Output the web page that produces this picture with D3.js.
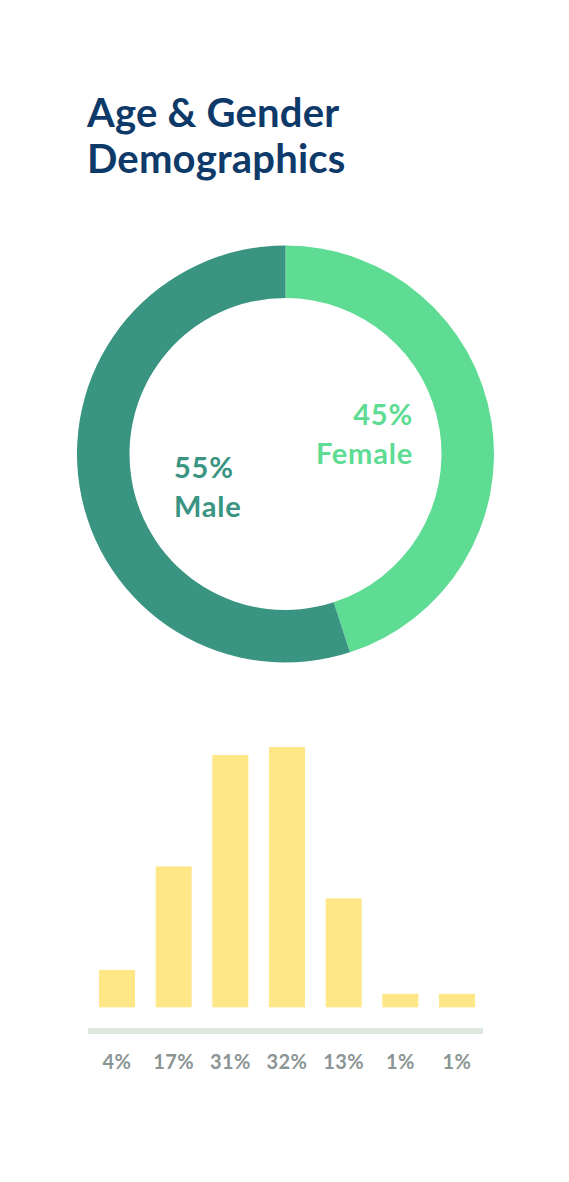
<!DOCTYPE html>
<html>
<head>
<meta charset="utf-8">
<script src="https://cdn.jsdelivr.net/npm/d3@7"></script>
<style>
  html, body { margin: 0; padding: 0; background: #ffffff; }
  svg { display: block; }
  text { font-family: Lato, "Open Sans", sans-serif; font-weight: 700; }
</style>
</head>
<body>
<svg id="chart" width="569" height="1182"></svg>
<script>
// ---- data ----
const titleLines = ["Age & Gender", "Demographics"];
const genderLabels = ["Female", "Male"];
const genderValues = [45, 55];
const ageCategories = ["a1", "a2", "a3", "a4", "a5", "a6", "a7"];
const ageValues = [4, 17, 31, 32, 13, 1, 1];
const ageTickLabels = ["4%", "17%", "31%", "32%", "13%", "1%", "1%"];

// ---- styles ----
const titleColor = "#0e3a6a";
const genderColors = ["#5edc93", "#3a9482"];
const barColor = "#ffe686";
const baseColor = "#dce7de";
const tickColor = "#8b9594";

const svg = d3.select("#chart");

// Title
svg.append("g").selectAll("text").data(titleLines).join("text")
  .attr("x", 87)
  .attr("y", (d, i) => 127 + i * 46)
  .attr("font-size", 40)
  .attr("letter-spacing", 0.2)
  .attr("fill", titleColor)
  .text(d => d);

// Donut
const cx = 285.5, cy = 454;
const pie = d3.pie().sort(null).value(d => d)(genderValues);
const arc = d3.arc().innerRadius(156).outerRadius(208.5);
const g = svg.append("g").attr("transform", `translate(${cx},${cy})`);
g.selectAll("path").data(pie).join("path")
  .attr("d", arc)
  .attr("fill", (d, i) => genderColors[i]);

// Donut labels
const labelPos = [
  { x: 413, y: 425, anchor: "end" },
  { x: 174, y: 478, anchor: "start" }
];
genderLabels.forEach((lab, i) => {
  const p = labelPos[i];
  const t = svg.append("text")
    .attr("x", p.x).attr("y", p.y)
    .attr("text-anchor", p.anchor)
    .attr("font-size", 29)
    .attr("letter-spacing", 0.8)
    .attr("fill", genderColors[i]);
  t.append("tspan").attr("x", p.x).text(genderValues[i] + "%");
  t.append("tspan").attr("x", p.x).attr("dy", 39).text(lab);
});

// Bars
const x = d3.scaleBand().domain(ageCategories).range([99, 475]).paddingInner(0.365).paddingOuter(0);
const baseY = 1007.3;
const y = d3.scaleLinear().domain([0, 32]).range([baseY - 5.5, 747]);
svg.append("g").selectAll("rect").data(ageValues).join("rect")
  .attr("x", (d, i) => x(ageCategories[i]))
  .attr("width", x.bandwidth())
  .attr("y", d => y(d))
  .attr("height", d => baseY - y(d))
  .attr("fill", barColor);

// Baseline
svg.append("rect")
  .attr("x", 88).attr("y", 1028)
  .attr("width", 395).attr("height", 6)
  .attr("fill", baseColor);

// Tick labels
const xAxis = d3.axisBottom(x).tickSize(0).tickPadding(0)
  .tickFormat((d, i) => ageTickLabels[i]);
const ax = svg.append("g").attr("transform", "translate(0,1069)").call(xAxis);
ax.select(".domain").remove();
ax.selectAll("text")
  .attr("dy", 0)
  .attr("font-size", 20)
  .attr("letter-spacing", 0.4)
  .attr("font-family", "Lato, sans-serif")
  .attr("font-weight", 700)
  .attr("fill", tickColor);
</script>
</body>
</html>
